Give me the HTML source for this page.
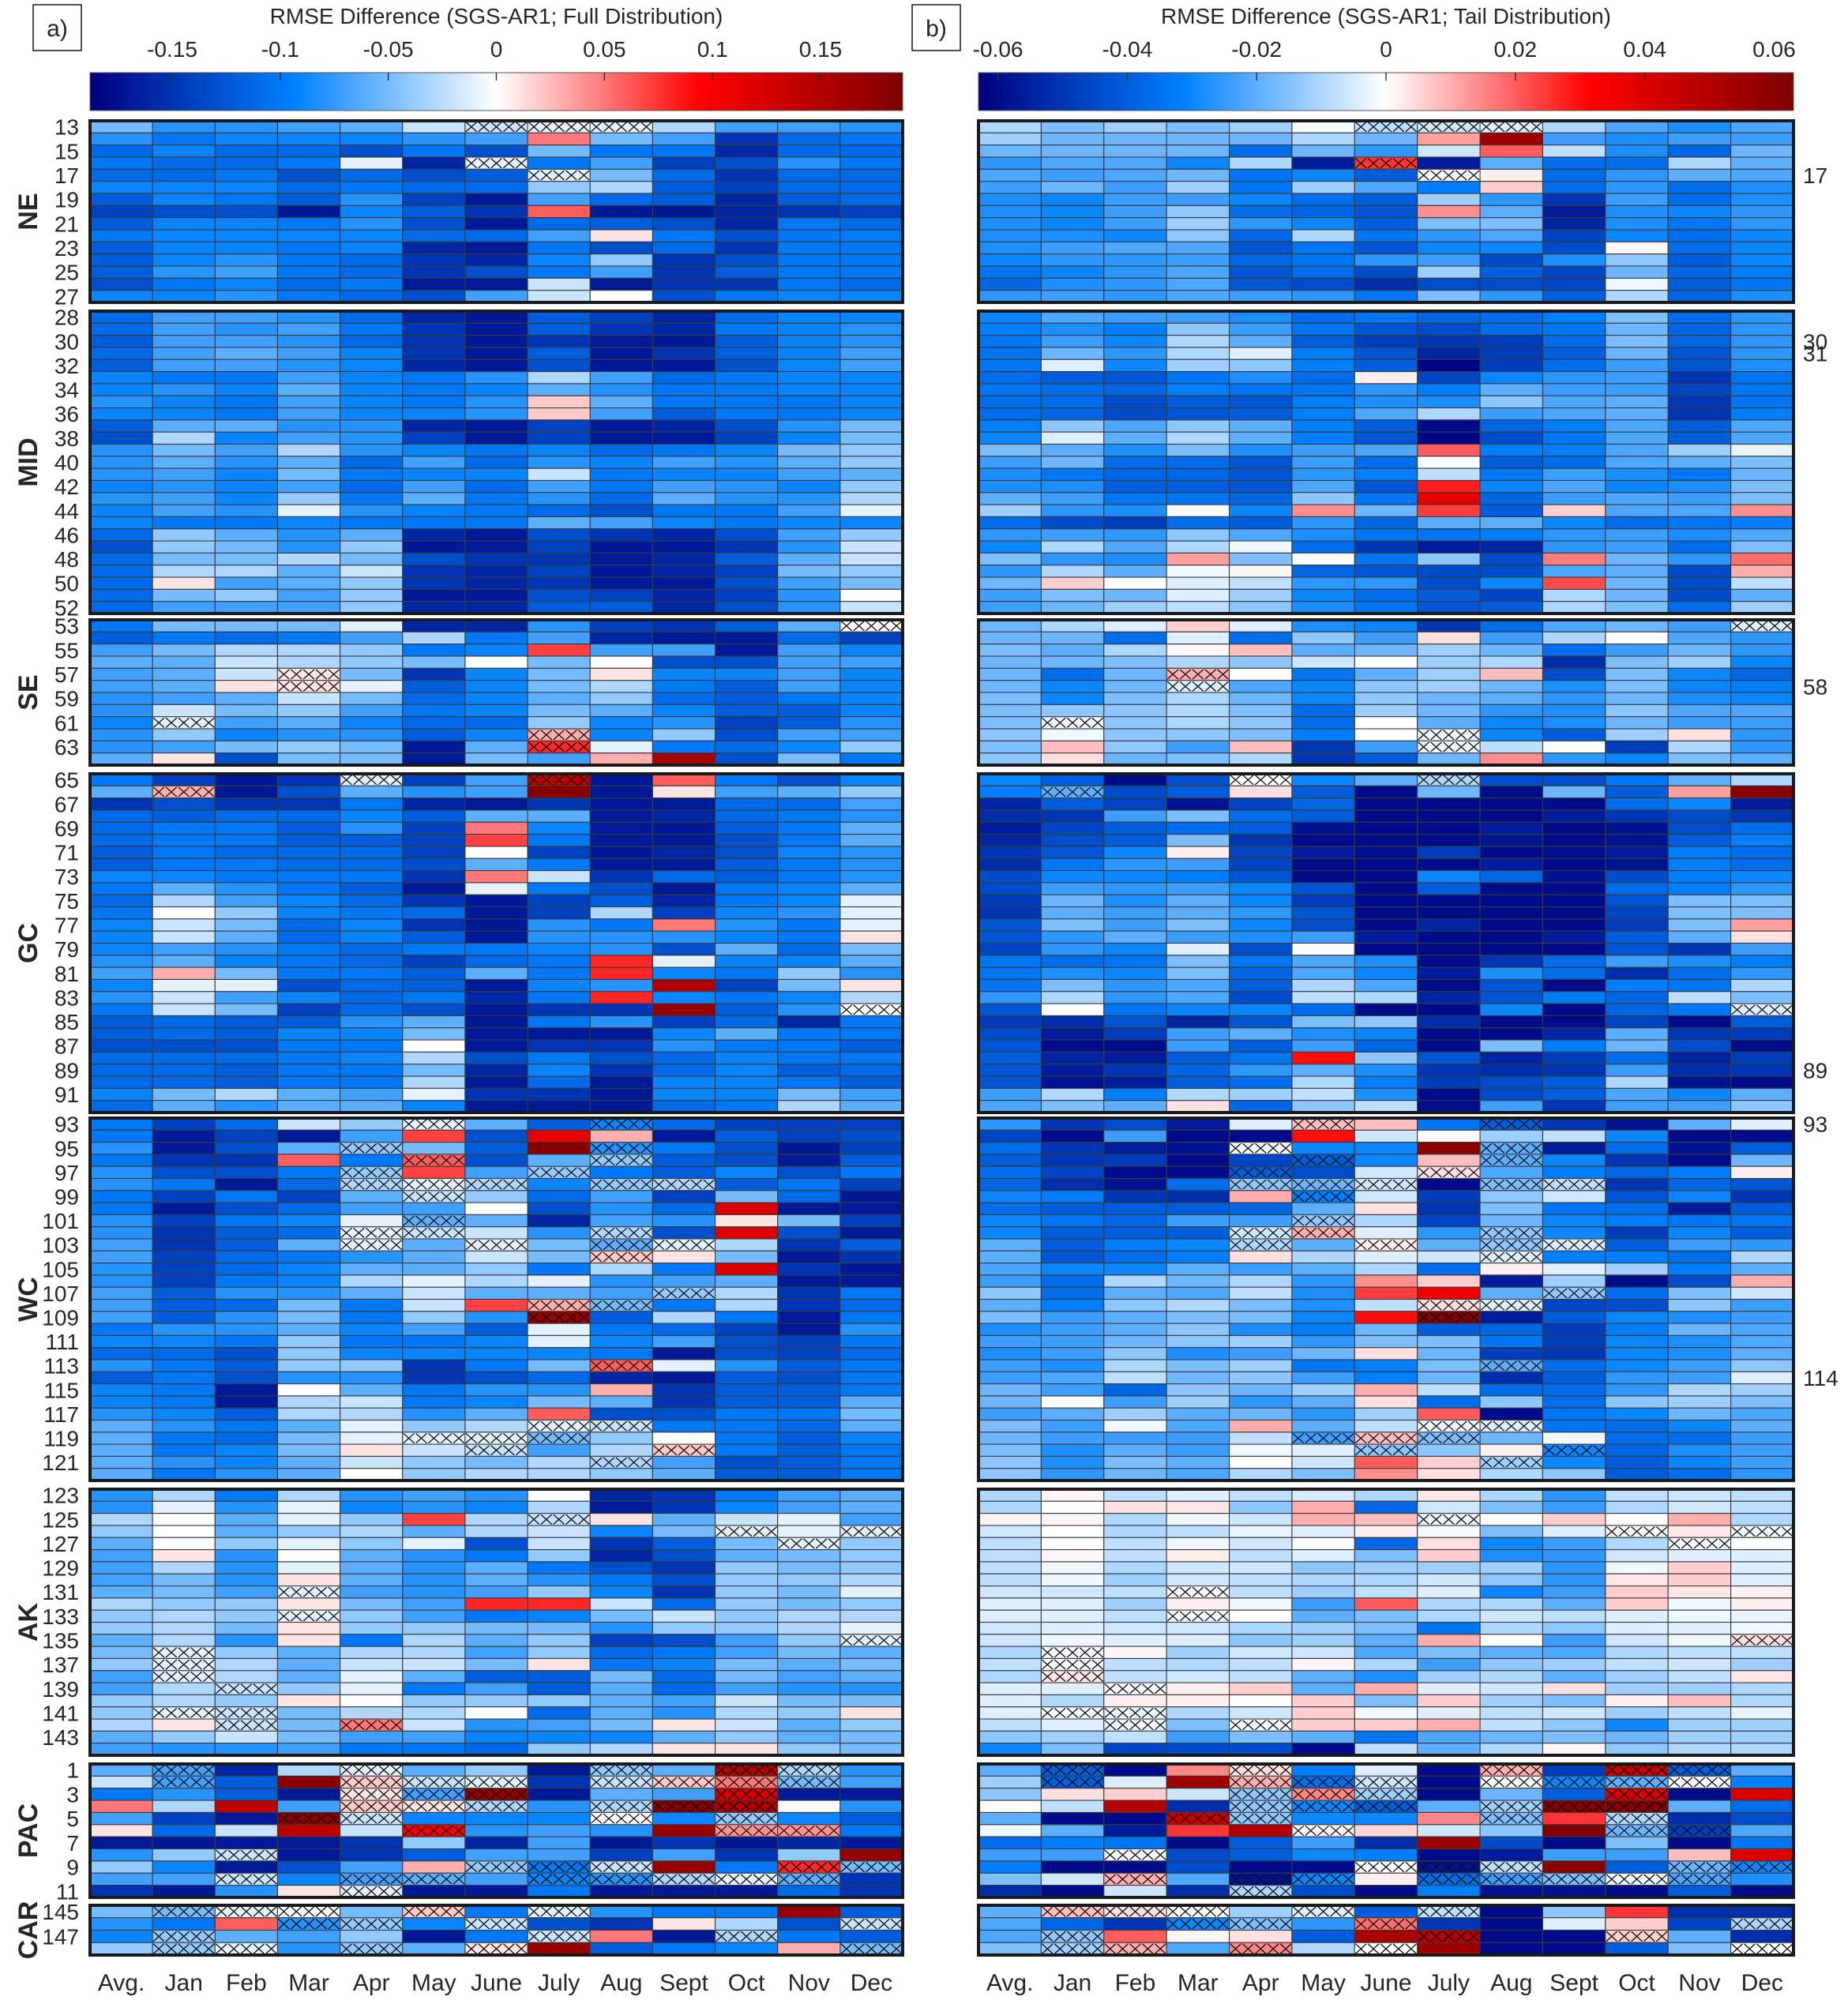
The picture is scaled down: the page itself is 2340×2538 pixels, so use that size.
<!DOCTYPE html>
<html><head><meta charset="utf-8"><title>RMSE Difference heatmaps</title>
<style>
html,body{margin:0;padding:0;background:#fff;}
svg text{font-family:"Liberation Sans",Arial,sans-serif;fill:#262626;}
</style></head>
<body>
<svg id="fig" xmlns="http://www.w3.org/2000/svg" width="2340" height="2533" viewBox="0 0 2340 2533">
<defs>
<linearGradient id="cmap" x1="0" x2="1" y1="0" y2="0">
<stop offset="0" stop-color="rgb(0,0,125)"/>
<stop offset="0.25" stop-color="rgb(0,128,255)"/>
<stop offset="0.5" stop-color="rgb(255,255,255)"/>
<stop offset="0.75" stop-color="rgb(255,0,0)"/>
<stop offset="1" stop-color="rgb(125,0,0)"/>
</linearGradient>
</defs>
<g id="static"></g>
<g id="cells"></g>
</svg>
<script>
// ===== DATA =====
const months = ["Avg.","Jan","Feb","Mar","Apr","May","June","July","Aug","Sept","Oct","Nov","Dec"];
const groupNames = ["NE","MID","SE","GC","WC","AK","PAC","CAR"];
const groupFirstStation = [13,28,53,65,93,123,1,145];
const cbTicksA = [-0.15,-0.1,-0.05,0,0.05,0.1,0.15];
const cbTickLabelsA = ["-0.15","-0.1","-0.05","0","0.05","0.1","0.15"];
const cbTicksB = [-0.06,-0.04,-0.02,0,0.02,0.04,0.06];
const cbTickLabelsB = ["-0.06","-0.04","-0.02","0","0.02","0.04","0.06"];
const markedStationsB = [17,30,31,58,89,93,114];

// Panel a values (hundredths)
const fullNE = [
[-5,-8,-8,-7,-6,-2,-2,-1,-1,-3,-7,-7,-8],
[-8,-10,-9,-9,-9,-8,-7,5,-5,-7,-15,-11,-10],
[-11,-9,-11,-11,-13,-10,-13,-5,-10,-10,-16,-11,-11],
[-10,-11,-11,-10,-1,-16,-1,-10,-7,-14,-13,-8,-10],
[-11,-11,-10,-13,-11,-13,-12,-1,-5,-11,-15,-11,-11],
[-9,-9,-9,-11,-10,-11,-11,-4,-3,-12,-14,-11,-11],
[-12,-9,-10,-12,-8,-14,-17,-7,-11,-12,-16,-12,-11],
[-14,-13,-13,-17,-9,-12,-15,6,-17,-17,-16,-15,-14],
[-12,-9,-9,-10,-8,-13,-17,-11,-12,-13,-16,-10,-11],
[-10,-9,-9,-9,-9,-11,-11,-7,1,-10,-13,-10,-10],
[-12,-9,-9,-10,-9,-16,-17,-10,-13,-11,-15,-10,-10],
[-12,-9,-8,-10,-11,-15,-16,-9,-4,-15,-13,-10,-10],
[-12,-8,-7,-10,-11,-15,-13,-10,-7,-15,-12,-10,-10],
[-13,-10,-9,-11,-10,-17,-17,-2,-17,-15,-15,-10,-11],
[-9,-9,-8,-10,-11,-13,-7,-2,0,-13,-10,-9,-9]];
const fullMID = [
[-11,-7,-7,-8,-11,-16,-17,-12,-14,-16,-11,-9,-9],
[-11,-7,-8,-7,-10,-15,-17,-12,-15,-16,-10,-9,-8],
[-12,-7,-7,-8,-11,-15,-17,-15,-17,-17,-12,-9,-8],
[-11,-7,-6,-7,-9,-15,-17,-12,-17,-15,-12,-9,-7],
[-12,-7,-7,-8,-9,-16,-17,-13,-17,-17,-13,-9,-7],
[-9,-10,-10,-7,-9,-10,-8,-3,-7,-11,-10,-9,-9],
[-9,-8,-9,-6,-9,-10,-9,-6,-8,-10,-10,-9,-9],
[-8,-9,-10,-7,-9,-10,-8,2,-6,-10,-10,-10,-9],
[-9,-9,-10,-7,-9,-9,-8,2,-7,-12,-10,-10,-9],
[-12,-6,-6,-8,-8,-16,-17,-14,-17,-16,-13,-8,-5],
[-13,-3,-9,-7,-8,-14,-17,-14,-17,-17,-14,-9,-5],
[-8,-5,-7,-3,-8,-9,-10,-9,-11,-10,-9,-5,-4],
[-8,-6,-8,-6,-11,-7,-11,-8,-9,-7,-8,-6,-4],
[-8,-7,-9,-5,-10,-9,-9,-2,-10,-9,-9,-7,-6],
[-9,-8,-9,-7,-11,-7,-11,-7,-10,-7,-8,-9,-4],
[-8,-7,-9,-4,-10,-6,-10,-8,-11,-6,-8,-8,-3],
[-9,-7,-8,-1,-8,-9,-10,-11,-13,-10,-10,-7,-1],
[-9,-10,-10,-9,-10,-10,-10,-6,-7,-9,-10,-9,-9],
[-11,-4,-6,-8,-6,-16,-17,-13,-15,-16,-13,-7,-4],
[-13,-4,-5,-8,-4,-17,-17,-14,-17,-17,-15,-8,-2],
[-11,-5,-5,-3,-5,-13,-15,-15,-17,-16,-12,-6,-2],
[-11,-3,-3,-6,-2,-15,-16,-14,-17,-16,-14,-5,-4],
[-11,1,-7,-6,-4,-15,-16,-15,-17,-17,-13,-7,-5],
[-11,-5,-4,-7,-4,-17,-17,-13,-14,-16,-14,-8,0],
[-11,-7,-7,-7,-4,-16,-16,-12,-12,-16,-13,-8,-2]];
const fullSE = [
[-10,-5,-5,-5,-1,-16,-16,-8,-14,-15,-12,-6,0],
[-12,-10,-11,-10,-7,-3,-10,-7,-16,-17,-17,-11,-14],
[-7,-5,-3,-3,-4,-10,-9,7,-7,-7,-17,-7,-9],
[-6,-6,-2,-3,-4,-5,0,-5,0,-13,-13,-7,-7],
[-7,-6,-2,1,-5,-15,-9,-5,1,-9,-9,-7,-9],
[-7,-6,1,1,-1,-12,-9,-5,-3,-10,-12,-7,-9],
[-8,-7,-6,-2,-5,-11,-9,-6,-4,-11,-12,-10,-9],
[-8,-2,-5,-4,-7,-10,-9,-5,-6,-9,-12,-12,-9],
[-9,-1,-7,-6,-9,-11,-11,-4,-9,-8,-14,-12,-8],
[-8,-4,-9,-8,-8,-12,-9,3,-9,-4,-13,-7,-7],
[-8,-7,-5,-4,-5,-17,-6,8,-1,-10,-11,-9,-4],
[-6,1,-13,-5,-5,-17,-5,-7,3,16,-13,-5,-10]];
const fullGC = [
[-10,-14,-17,-15,-1,-14,-7,14,-17,6,-10,-13,-9],
[-6,3,-17,-13,-6,-8,-7,18,-17,1,-7,-6,-4],
[-15,-13,-15,-15,-10,-16,-17,-15,-17,-17,-11,-11,-7],
[-11,-12,-11,-11,-9,-12,-6,-6,-17,-16,-11,-10,-8],
[-11,-10,-10,-12,-8,-14,5,-9,-17,-17,-12,-10,-6],
[-11,-10,-10,-12,-12,-14,7,-10,-17,-17,-13,-10,-6],
[-12,-10,-11,-11,-11,-14,0,-14,-17,-16,-13,-9,-8],
[-12,-10,-10,-11,-11,-13,-6,-10,-17,-17,-12,-10,-8],
[-9,-9,-10,-10,-10,-15,5,-2,-15,-11,-12,-10,-8],
[-10,-6,-8,-10,-12,-17,-1,-10,-13,-17,-10,-9,-6],
[-11,-3,-7,-9,-11,-15,-17,-14,-12,-16,-10,-9,-1],
[-10,0,-4,-9,-10,-11,-17,-14,-3,-14,-9,-8,-1],
[-9,-2,-5,-11,-9,-15,-17,-8,-10,5,-8,-10,-1],
[-9,-2,-6,-11,-9,-12,-17,-8,-8,-8,-9,-10,1],
[-9,-7,-8,-10,-11,-10,-10,-9,-8,-13,-6,-11,-5],
[-8,-6,-9,-10,-11,-14,-11,-10,8,-1,-9,-9,-6],
[-7,3,-5,-10,-10,-12,-6,-10,8,-9,-10,-4,-8],
[-9,-1,-1,-13,-11,-12,-17,-9,-8,15,-14,-5,1],
[-8,-2,-7,-9,-11,-10,-16,-10,8,-9,-10,-9,-3],
[-10,-2,-5,-14,-11,-13,-17,-15,-15,17,-12,-8,0],
[-12,-11,-12,-12,-8,-6,-17,-10,-8,-14,-11,-16,-10],
[-12,-11,-12,-9,-9,-5,-17,-17,-17,-9,-6,-10,-10],
[-13,-13,-13,-10,-10,0,-17,-15,-15,-8,-10,-10,-12],
[-11,-11,-11,-10,-9,-3,-13,-10,-13,-11,-9,-10,-10],
[-11,-11,-12,-10,-10,-5,-16,-9,-15,-11,-9,-12,-11],
[-11,-11,-12,-10,-10,-3,-17,-11,-17,-9,-9,-10,-12],
[-9,-5,-3,-6,-7,-1,-15,-15,-17,-9,-9,-5,-7],
[-11,-6,-8,-6,-6,-9,-17,-17,-17,-11,-10,-3,-6]];
const fullWC = [
[-10,-14,-11,-2,-4,-1,-6,-12,-9,-11,-14,-14,-14],
[-10,-17,-14,-17,-7,7,-13,11,3,-17,-12,-14,-13],
[-8,-17,-13,-6,-4,-5,-12,18,-8,-10,-13,-17,-14],
[-10,-15,-15,6,-10,6,-13,-6,-4,-12,-13,-17,-12],
[-8,-13,-13,-10,-4,7,-7,-4,-10,-12,-9,-13,-10],
[-8,-10,-17,-11,-3,-1,-3,-9,-4,-3,-12,-10,-14],
[-10,-14,-10,-14,-6,-2,-4,-11,-7,-14,-5,-11,-17],
[-10,-17,-13,-11,-7,-7,0,-13,-8,-11,12,-17,-17],
[-8,-14,-10,-9,-1,-6,-6,-16,-7,-8,1,-5,-14],
[-8,-15,-12,-11,-1,-2,-2,-8,-3,-13,12,-13,-17],
[-7,-15,-12,-6,-1,-6,-1,-5,-6,-1,-3,-15,-12],
[-7,-14,-11,-10,-8,-6,-2,-5,2,1,-5,-17,-15],
[-8,-14,-11,-9,-6,-6,-4,-10,-3,-10,12,-15,-17],
[-8,-14,-10,-9,-3,-1,-3,-1,-8,-7,-6,-17,-17],
[-7,-12,-8,-8,-6,-2,-6,-6,-7,-4,-3,-15,-10],
[-7,-12,-11,-5,-10,-2,7,3,-5,-10,-3,-15,-11],
[-7,-12,-8,-5,-10,-4,-8,17,-12,-3,-10,-17,-10],
[-10,-8,-8,-6,-9,-7,-12,-1,-10,-11,-14,-17,-8],
[-9,-9,-10,-4,-10,-10,-9,-1,-9,-7,-13,-14,-10],
[-11,-11,-13,-4,-9,-9,-9,-9,-10,-17,-13,-14,-11],
[-8,-10,-12,-4,-4,-15,-10,-5,6,-1,-8,-12,-10],
[-12,-10,-13,-8,-8,-15,-13,-11,-16,-17,-12,-13,-10],
[-9,-10,-17,0,-6,-10,-8,-8,3,-15,-12,-12,-10],
[-9,-10,-17,-3,-2,-10,-9,-5,-6,-15,-12,-12,-6],
[-8,-9,-12,-3,-3,-8,-6,6,-13,-13,-10,-10,-5],
[-6,-8,-10,-6,-1,-4,-3,-1,-2,-10,-10,-11,-6],
[-6,-10,-11,-5,-1,-1,-1,-5,-4,0,-10,-12,-9],
[-6,-10,-9,-5,1,-2,-2,-7,-3,2,-10,-12,-10],
[-6,-8,-9,-6,-2,-4,-5,-3,-3,-7,-13,-12,-10],
[-6,-10,-8,-6,0,-4,-3,-3,-4,-6,-12,-12,-10]];
const fullAK = [
[-8,-3,-10,-3,-8,-7,-8,0,-16,-15,-10,-7,-6],
[-8,-1,-8,-1,-9,-8,-9,-3,-17,-15,-9,-7,-6],
[-3,0,-6,-1,-4,7,-3,-2,1,-6,-2,-1,-7],
[-4,0,-6,-4,-3,-6,-3,-2,-9,-5,-1,-1,-1],
[-6,0,-4,-1,-4,-1,-13,-2,-15,-12,-5,-1,-4],
[-7,1,-8,0,-6,-8,-10,-4,-16,-13,-6,-5,-4],
[-7,-3,-8,-1,-6,-8,-6,-10,-13,-15,-4,-5,-4],
[-7,-5,-8,1,-6,-8,-6,-8,-10,-13,-4,-4,-3],
[-6,-5,-7,-1,-7,-8,-7,-4,-9,-15,-4,-5,-1],
[-3,-4,-4,1,-5,-7,8,8,-2,-11,-4,-5,-4],
[-4,-3,-4,-1,-4,-7,-10,-9,-5,-2,-4,-3,-3],
[-4,-3,-5,1,-4,-4,-5,-5,-8,-4,-4,-3,-1],
[-6,-3,-8,1,-10,-3,-6,-4,-14,-13,-7,-4,-1],
[-5,-1,-4,-6,-3,-3,-7,-4,-11,-10,-7,-5,-6],
[-4,-1,-3,-6,-2,-2,-5,1,-10,-9,-5,-6,-5],
[-7,-1,-3,-6,-1,-6,-12,-12,-5,-11,-5,-7,-6],
[-7,-3,-2,-4,-1,-10,-7,-12,-6,-11,-7,-8,-8],
[-4,-3,-4,1,0,-4,-4,-4,-6,-7,-2,-5,-5],
[-4,-1,-2,-5,-3,-3,0,-11,-6,-8,-3,-4,1],
[-3,1,-2,-5,5,-2,-8,-7,-5,1,-2,-6,-4],
[-6,-4,-2,-5,-7,-7,-9,-9,-9,-6,-4,-6,-5],
[-7,-8,-8,-7,-10,-10,-11,-4,-3,1,1,-4,-5]];
const fullPAC = [
[-6,-7,-16,-3,-1,-6,-4,-17,-4,-6,15,-3,-8],
[-2,-7,-12,18,2,-2,-1,-15,-2,2,5,-5,-7],
[-10,-8,-12,-17,1,-7,17,-17,-6,-7,12,-17,-17],
[5,-3,14,-7,2,1,-3,-8,-3,18,15,0,-8],
[-7,-14,-17,18,-2,-9,-9,-9,0,-9,-4,-9,-12],
[1,-11,-2,14,-2,10,-8,-7,-8,17,4,4,-10],
[-17,-17,-17,-17,-15,-4,-16,-7,-17,-15,-17,-16,-17],
[-8,-4,-2,-17,-15,-12,-7,-7,-14,-7,-15,-4,17],
[-4,-9,-17,-13,-7,3,-4,-10,-2,17,-10,8,-5],
[-7,-7,-2,-9,-7,-6,-7,-9,-8,-3,-1,-6,-15],
[-15,-17,-8,1,-1,-17,-17,-10,-17,-17,-17,-11,-15]];
const fullCAR = [
[-5,-5,-1,0,-5,2,-10,-1,-8,-10,-10,17,-12],
[-8,-10,6,-8,-4,-9,-2,-13,-15,1,-3,-13,-2],
[-9,-4,-6,-7,-4,-17,-10,-2,5,-17,-3,-10,-12],
[-4,-4,-1,-8,-4,-6,1,17,-12,-10,-9,3,-5]];

// Panel b values (thousandths)
const tailNE = [
[-10,-16,-12,-16,-12,-1,-8,-6,-4,-10,-22,-28,-22],
[-12,-18,-18,-18,-18,-10,-18,12,55,-24,-28,-24,-24],
[-18,-18,-18,-18,-36,-18,-26,-6,20,-8,-28,-38,-18],
[-26,-22,-22,-30,-10,-56,25,-56,-20,-36,-36,-10,-20],
[-22,-24,-22,-18,-34,-30,-40,-1,2,-36,-26,-20,-22],
[-24,-18,-24,-12,-34,-12,-22,-32,6,-36,-26,-36,-28],
[-28,-30,-24,-24,-30,-36,-40,-12,-26,-50,-24,-36,-28],
[-28,-30,-24,-14,-36,-38,-42,14,-20,-56,-28,-30,-26],
[-28,-30,-24,-12,-26,-30,-40,-16,-16,-54,-28,-34,-26],
[-28,-28,-30,-14,-38,-10,-34,-26,-22,-46,-30,-36,-30],
[-28,-24,-22,-22,-42,-34,-42,-30,-30,-44,1,-36,-30],
[-30,-26,-26,-24,-38,-34,-26,-24,-44,-28,-14,-40,-30],
[-34,-30,-26,-22,-42,-36,-44,-12,-40,-46,-18,-38,-32],
[-38,-28,-26,-22,-42,-44,-52,-44,-44,-46,-2,-40,-34],
[-26,-24,-26,-22,-24,-26,-34,-16,-26,-40,-10,-38,-28]];
const tailMID = [
[-30,-22,-24,-24,-28,-36,-34,-38,-36,-32,-16,-36,-26],
[-32,-28,-32,-14,-24,-34,-42,-44,-36,-34,-18,-38,-26],
[-34,-24,-30,-10,-20,-40,-48,-50,-48,-36,-16,-38,-26],
[-34,-18,-26,-10,-4,-32,-42,-54,-48,-40,-18,-42,-26],
[-34,-4,-30,-12,-14,-32,-40,-62,-48,-36,-24,-42,-28],
[-36,-40,-42,-34,-28,-36,2,-46,-30,-26,-24,-50,-34],
[-34,-36,-38,-32,-34,-34,-26,-32,-20,-24,-24,-46,-34],
[-36,-36,-44,-40,-42,-32,-28,-28,-14,-22,-20,-50,-34],
[-36,-38,-44,-42,-40,-32,-22,-10,-24,-22,-20,-50,-32],
[-32,-14,-22,-14,-20,-32,-40,-60,-38,-32,-22,-40,-22],
[-30,-4,-20,-10,-20,-32,-42,-62,-44,-34,-22,-40,-22],
[-16,-20,-28,-16,-28,-24,-22,20,-32,-32,-22,-12,-3],
[-24,-18,-36,-36,-42,-24,-36,0,-40,-36,-22,-20,-16],
[-28,-34,-38,-38,-42,-26,-32,-8,-34,-24,-28,-34,-18],
[-28,-28,-40,-40,-42,-22,-42,28,-30,-22,-30,-28,-16],
[-20,-24,-34,-34,-38,-14,-34,38,-38,-24,-22,-24,-16],
[-12,-26,-28,-1,-30,14,-18,24,-40,6,-22,-22,14],
[-36,-44,-48,-36,-40,-26,-38,-20,-20,-30,-36,-34,-32],
[-26,-24,-26,-14,-22,-28,-34,-34,-32,-26,-24,-28,-22],
[-30,-10,-22,-10,-2,-36,-50,-56,-54,-26,-24,-36,-16],
[-16,-26,-28,12,-16,0,-34,-14,-44,16,-18,-26,18],
[-26,-10,-20,-2,1,-38,-42,-44,-44,-22,-20,-44,10],
[-18,6,0,-4,-8,-26,-26,-44,-30,22,-18,-44,-8],
[-24,-16,-18,-4,-12,-30,-36,-40,-46,-10,-18,-44,-20],
[-24,-18,-12,-8,-14,-28,-34,-42,-40,-10,-16,-36,-12]];
const tailSE = [
[-18,-10,-4,6,-4,-28,-30,-50,-36,-22,-18,-24,-4],
[-18,-18,-36,-4,-36,-14,-24,4,-24,-10,0,-22,-26],
[-16,-20,-10,1,8,-20,-18,-12,-18,-36,-24,-18,-26],
[-18,-18,-16,-10,-14,-6,0,-12,-10,-52,-16,-12,-30],
[-18,-36,-18,10,0,-34,-20,-12,8,-44,-16,-30,-38],
[-18,-30,-18,-4,-22,-30,-14,-12,-18,-28,-16,-30,-32],
[-16,-30,-16,-10,-18,-30,-14,-18,-20,-26,-18,-28,-30],
[-16,-14,-14,-10,-16,-36,-12,-18,-26,-28,-14,-22,-22],
[-16,-2,-14,-10,-14,-36,0,-20,-30,-28,-18,-24,-24],
[-14,-2,-14,-14,-16,-32,0,-2,-30,-40,-12,4,-26],
[-16,8,-14,-24,8,-50,-24,-2,-8,0,-48,-10,-26],
[-14,4,-18,-16,-10,-50,-40,-18,14,-26,-30,-16,-20]];
const tailGC = [
[-30,-40,-60,-44,0,-30,-20,-10,-44,-44,-34,-20,-10],
[-32,-20,-44,-40,4,-40,-60,-18,-60,-18,-40,12,60],
[-54,-40,-46,-58,-46,-38,-60,-60,-60,-60,-36,-30,-56],
[-52,-50,-24,-16,-36,-40,-60,-60,-60,-56,-50,-44,-50],
[-56,-46,-40,-36,-40,-58,-60,-60,-56,-60,-58,-44,-36],
[-54,-44,-40,-16,-50,-60,-60,-60,-58,-60,-58,-40,-32],
[-50,-42,-30,2,-46,-56,-60,-48,-60,-60,-56,-32,-36],
[-52,-34,-26,-24,-46,-60,-60,-60,-56,-60,-58,-32,-36],
[-44,-30,-30,-32,-42,-60,-60,-30,-38,-58,-44,-32,-30],
[-44,-24,-26,-24,-30,-42,-60,-40,-60,-60,-36,-32,-26],
[-48,-18,-28,-20,-30,-48,-60,-60,-60,-60,-42,-16,-16],
[-50,-20,-24,-20,-26,-42,-60,-60,-60,-60,-46,-16,-16],
[-42,-16,-24,-16,-30,-44,-60,-54,-60,-60,-48,-16,12],
[-42,-26,-20,-24,-28,-24,-56,-60,-60,-56,-40,-20,4],
[-46,-26,-30,-4,-44,0,-60,-60,-60,-60,-42,-50,-24],
[-34,-36,-34,-16,-34,-22,-28,-60,-50,-36,-24,-28,-32],
[-34,-28,-30,-16,-38,-22,-30,-56,-28,-36,-52,-36,-26],
[-34,-16,-26,-22,-40,-10,-22,-60,-42,-60,-32,-34,-10],
[-26,-10,-26,-22,-44,-8,-10,-54,-42,-32,-38,-8,-16],
[-42,0,-34,-30,-30,-36,-60,-60,-30,-60,-38,-34,-4],
[-48,-52,-42,-54,-42,-16,-14,-52,-60,-60,-46,-60,-40],
[-44,-56,-48,-24,-20,-28,-30,-60,-60,-54,-20,-50,-48],
[-42,-60,-60,-24,-40,-24,-38,-60,-16,-32,-18,-44,-60],
[-40,-54,-56,-40,-34,30,-14,-42,-54,-48,-36,-54,-48],
[-42,-56,-50,-38,-26,-20,-28,-50,-52,-50,-24,-52,-50],
[-42,-58,-56,-40,-36,-10,-32,-48,-44,-40,-10,-58,-60],
[-24,-10,-32,-10,-12,-8,-28,-60,-44,-40,-22,-30,-20],
[-22,-16,-20,4,-38,-14,-8,-60,-24,-50,-24,-24,-14]];
const tailWC = [
[-26,-50,-44,-56,-4,8,8,-34,-40,-50,-58,-20,-4],
[-46,-60,-24,-60,-60,30,-6,0,-12,-8,-30,-60,-60],
[-36,-50,-56,-58,-1,-30,-30,60,-20,-56,-36,-58,-40],
[-40,-50,-48,-60,-46,-40,-30,8,-20,-30,-50,-60,-18],
[-36,-46,-60,-60,-40,-44,-6,4,-22,-32,-38,-32,2],
[-38,-52,-58,-36,-14,-18,-6,-60,-16,-8,-50,-38,-42],
[-30,-32,-50,-52,10,-32,-6,-48,-14,-6,-42,-30,-50],
[-36,-40,-40,-40,-38,-20,4,-50,-16,-34,-36,-56,-40],
[-30,-34,-38,-24,-24,-14,-10,-46,-18,-30,-32,-34,-34],
[-30,-40,-40,-40,-6,10,-4,-26,-14,-30,-48,-30,-40],
[-20,-40,-32,-30,-10,-20,2,-20,-14,-4,-40,-24,-26],
[-20,-42,-36,-32,4,-10,-4,-6,-4,-32,-32,-36,-10],
[-22,-30,-30,-20,-24,-20,-10,-36,2,-4,-12,-32,-20],
[-24,-36,-10,-18,-10,-26,14,6,-56,-12,-60,-44,10],
[-14,-36,-20,-22,-8,-28,24,36,-20,-14,-36,-16,-6],
[-20,-32,-14,-10,-16,-28,-8,4,-4,-46,-44,-14,-24],
[-16,-24,-20,-16,-16,-30,30,62,-56,-40,-30,-28,-24],
[-28,-24,-20,-14,-28,-32,-18,-40,-38,-48,-32,-18,-22],
[-24,-24,-18,-14,-12,-26,-16,-16,-34,-48,-30,-28,-22],
[-28,-24,-14,-28,-24,-18,4,-18,-48,-50,-30,-28,-20],
[-24,-28,-10,-16,-12,-34,-32,-16,-20,-36,-30,-24,-14],
[-24,-22,-8,-18,-14,-24,-32,-18,-52,-40,-26,-24,-4],
[-18,-24,-38,-14,-18,-12,10,-8,-36,-36,-26,-10,-12],
[-18,0,-24,-12,-26,-20,4,-36,-14,-36,-14,-12,-16],
[-24,-20,-12,-20,-18,-26,-12,20,-60,-34,-30,-18,-22],
[-16,-24,-2,-22,10,-20,-8,-2,-4,-34,-36,-30,-20],
[-18,-24,-24,-24,-8,-24,8,-16,-18,-2,-36,-36,-24],
[-16,-28,-20,-24,-2,-4,-14,-14,2,-30,-38,-28,-24],
[-14,-28,-16,-20,0,-6,20,6,-12,-30,-40,-30,-24],
[-14,-26,-18,-22,-10,-16,14,4,-10,-14,-40,-36,-26]];
const tailAK = [
[-10,1,-8,-4,-8,-5,-10,3,-10,-26,-8,-6,-8],
[-10,0,4,3,-14,10,-38,-6,-16,-24,-10,-6,-8],
[1,1,-10,-2,-6,10,8,-2,0,6,0,10,-10],
[-6,0,-10,-8,-3,-4,2,-1,-16,-4,-1,3,-1],
[-8,0,-8,-2,-6,0,-38,4,-30,-24,-10,-1,0],
[-8,1,-8,2,-8,-4,-16,6,-28,-26,-6,-4,-4],
[-8,-2,-10,-6,-6,-14,-12,-12,-12,-26,-2,6,-4],
[-8,-2,-12,-6,-8,-10,-10,-6,-14,-26,3,6,-4],
[-6,-6,-8,-1,-8,-12,-8,-4,-30,-24,6,3,2],
[-4,-4,-12,2,-2,-24,20,-10,-10,-20,6,-2,2],
[-4,-4,-8,-1,0,-20,-16,-10,-6,-8,-4,-2,-3],
[-6,-4,-6,-6,-10,-12,-16,-34,-10,-14,-4,-4,-2],
[-6,-2,-4,-4,-14,-12,-20,10,0,-24,-6,-2,4],
[-10,-1,1,-12,-6,-6,-22,-16,-20,-22,-10,-8,-8],
[-8,-1,-8,-10,-8,1,-10,-24,-14,-12,-8,-6,-12],
[-10,3,-8,-6,-8,-20,-28,-12,-10,-20,-12,-8,3],
[-4,-4,-1,2,6,-20,10,-4,-6,4,-12,-12,-10],
[-4,-10,2,2,0,6,-16,6,-12,-16,2,8,-10],
[-4,-1,-2,-10,-6,6,-2,-4,-8,-6,-12,-8,-3],
[-8,-4,-2,-16,-1,6,6,10,-8,-14,-30,-12,-12],
[-14,-12,-8,-24,-16,-20,-34,-22,-18,-16,-18,-12,-12],
[-30,-16,-46,-44,-44,-60,-8,-20,-10,1,-14,-10,-10]];
const tailPAC = [
[-20,-40,-60,15,4,-32,-4,-60,10,-48,45,-40,-20],
[-12,-40,-4,55,10,-36,-6,-60,0,-30,-20,-1,-32],
[-14,4,6,-6,-14,15,-12,-60,-18,-40,40,-60,40],
[0,-8,50,-52,-14,-30,-40,-20,-12,60,60,-20,-36],
[-20,-60,-60,45,-14,-30,-30,15,-16,25,-10,-52,-44],
[-2,-20,-56,25,50,1,5,-6,-14,62,-18,-48,-22],
[-36,-32,-34,-60,-40,-24,-52,55,-44,-60,-16,-60,-34],
[-24,-24,-1,-44,-40,-30,-32,-60,-56,-24,-24,8,40],
[-32,-60,-60,-44,-60,-60,0,-58,-8,60,-40,-18,-30],
[-16,-6,10,-22,-58,-30,2,-36,-24,-16,-2,-22,-28],
[-52,-60,-6,-52,-10,-44,-60,-32,-58,-58,-60,-40,-60]];
const tailCAR = [
[-20,8,4,0,-12,-4,-40,-8,-60,-14,25,-52,-52],
[-22,-38,-50,-30,-16,-26,18,-50,-60,-4,6,-46,-10],
[-22,-14,20,1,4,-40,52,50,-60,-60,6,-20,-52],
[-16,-12,10,-22,15,-10,0,55,-60,-60,-40,-16,0]];

// Hatched (cross-hatched) cells: [station, month index]
const hatchCells = [
[13,6],[13,7],[13,8],[16,6],[17,7],
[53,12],[57,3],[58,3],[61,1],[62,7],[63,7],
[65,4],[65,7],[66,1],[84,12],
[93,5],[93,8],[95,4],[95,8],[96,5],[96,8],[97,4],[97,7],[98,4],[98,5],[98,6],[98,8],[98,9],[99,5],
[101,5],[102,4],[102,5],[102,8],[103,4],[103,6],[103,8],[103,9],[104,8],[107,9],[108,7],[108,8],[109,7],
[113,8],[118,7],[118,8],[119,5],[119,6],[119,7],[120,6],[120,9],[121,8],
[125,7],[126,10],[126,12],[127,11],[131,3],[133,3],[135,12],[136,1],[137,1],[138,1],[139,2],[141,1],[141,2],[142,2],[142,4],
[1,1],[2,1],[1,4],[2,4],[3,4],[4,4],[5,4],[2,5],[3,5],[4,5],[2,6],[3,6],[4,6],[1,8],[2,8],[4,8],[5,8],[2,9],[4,9],
[1,10],[2,10],[3,10],[4,10],[5,10],[6,10],[1,11],[2,11],[6,11],[5,3],[6,5],[8,2],[9,6],[9,7],[9,8],[9,11],[9,12],
[10,2],[10,4],[10,5],[10,7],[10,8],[10,9],[10,10],[10,11],[11,4],
[145,1],[145,2],[145,3],[145,5],[145,7],[146,3],[146,4],[146,6],[146,12],[147,1],[147,7],[147,10],[148,1],[148,2],[148,4],[148,6],[148,12]];

const fullData = [fullNE,fullMID,fullSE,fullGC,fullWC,fullAK,fullPAC,fullCAR];
const tailData = [tailNE,tailMID,tailSE,tailGC,tailWC,tailAK,tailPAC,tailCAR];

// ===== LAYOUT =====
const NS = "http://www.w3.org/2000/svg";
const groupTop = [153,394,785,980,1416,1886,2234,2413];
const groupBot = [383,777,969,1409,1875,2223,2403,2476];
const panels = [
  {x0:114, x1:1143, data:fullData, vmax:18.8, cbMin:-0.188, cbMax:0.188, ticks:cbTicksA, labels:cbTickLabelsA, key:'full',
   title:"RMSE Difference (SGS-AR1; Full Distribution)", tag:"a)", tagX:42},
  {x0:1239, x1:2271, data:tailData, vmax:63, cbMin:-0.063, cbMax:0.063, ticks:cbTicksB, labels:cbTickLabelsB, key:'tail',
   title:"RMSE Difference (SGS-AR1; Tail Distribution)", tag:"b)", tagX:1155}
];
const hatchSet = new Set(hatchCells.map(h => h[0] + '_' + h[1]));

function colorFor(v, vmax){
  let t = Math.max(-1, Math.min(1, v / vmax));
  let r,g,b;
  if (t <= -0.5){ const s=(t+1)/0.5; r=0; g=128*s; b=125+130*s; }
  else if (t < 0){ const s=(t+0.5)/0.5; r=255*s; g=128+127*s; b=255; }
  else if (t <= 0.5){ const s=t/0.5; r=255; g=255*(1-s); b=255*(1-s); }
  else { const s=(t-0.5)/0.5; r=255-130*s; g=0; b=0; }
  return `rgb(${Math.round(r)},${Math.round(g)},${Math.round(b)})`;
}
function mk(tag, attrs, parent, text){
  const e = document.createElementNS(NS, tag);
  for (const k in attrs) e.setAttribute(k, attrs[k]);
  if (text !== undefined) e.textContent = text;
  parent.appendChild(e);
  return e;
}

const stat = document.getElementById('static');
const cellsG = document.getElementById('cells');

panels.forEach((p, pi) => {
  const cw = (p.x1 - p.x0) / 13;
  const xOfVal = v => p.x0 + (v - p.cbMin) / (p.cbMax - p.cbMin) * (p.x1 - p.x0);
  // panel tag box
  const tagBox = mk('rect', {x:p.tagX, y:6, width:61, height:58, fill:'#fff', stroke:'#262626', 'stroke-width':1.6}, stat);
  
  
  const tagT = mk('text', {x:p.tagX+30.5, y:46, 'font-size':30, 'text-anchor':'middle'}, stat, p.tag);
  
  
  // colorbar title
  const ttl = mk('text', {x:(p.x0+p.x1)/2, y:30, 'font-size':28, 'text-anchor':'middle'}, stat, p.title);
  
  
  // colorbar
  const cb = mk('rect', {x:p.x0, y:92, width:p.x1-p.x0, height:48, fill:'url(#cmap)', stroke:'#555', 'stroke-width':1}, stat);
  
  
  p.ticks.forEach((tv, ti) => {
    const tx = xOfVal(tv);
    const tk = mk('line', {x1:tx, x2:tx, y1:92, y2:102, stroke:'#333', 'stroke-width':1.5}, stat);
    
    
    const tl = mk('text', {x:tx, y:72, 'font-size':28, 'text-anchor':'middle'}, stat, p.labels[ti]);
    
    
  });
  // groups
  p.data.forEach((rows, gi) => {
    const top = groupTop[gi], bot = groupBot[gi];
    const n = rows.length;
    const rh = (bot - top) / n;
    const gG = mk('g', {}, cellsG);
    
    
    rows.forEach((row, ri) => {
      const st = groupFirstStation[gi] + ri;
      const y = top + ri * rh;
      row.forEach((v, ci) => {
        const x = p.x0 + ci * cw;
        const c = mk('rect', {x:x, y:y, width:cw, height:rh, fill:colorFor(v, p.vmax), stroke:'#3a3a3a', 'stroke-width':1.1}, gG);
        
        
        if (hatchSet.has(st + '_' + ci)) {
          let d = '';
          const nx = 5, sw = cw / nx;
          for (let k = 0; k < nx; k++) {
            const xa = x + k*sw + 1, xb = x + (k+1)*sw - 1;
            d += `M${xa},${y+1.5}L${xb},${y+rh-1.5}M${xb},${y+1.5}L${xa},${y+rh-1.5}`;
          }
          const h = mk('path', {d:d, stroke:'#111', 'stroke-width':1.3, fill:'none'}, gG);
          
          
        }
      });
      // row labels (left side only for panel a)
      if (pi === 0 && ri % 2 === 0) {
        const rl = mk('text', {x:100, y:y + rh/2 + 10, 'font-size':28, 'text-anchor':'end'}, stat, String(st));
        
        
      }
      if (pi === 1 && markedStationsB.indexOf(st) >= 0) {
        const ml = mk('text', {x:2283, y:y + rh/2 + 10, 'font-size':28, 'text-anchor':'start'}, stat, String(st));
        
        
      }
    });
    const fr = mk('rect', {x:p.x0, y:top, width:p.x1-p.x0, height:bot-top, fill:'none', stroke:'#1a1a1a', 'stroke-width':4}, gG);
    
    
    if (pi === 0) {
      const cy = (top + bot) / 2;
      const gl = mk('text', {x:47, y:cy, 'font-size':34, 'font-weight':'bold', 'text-anchor':'middle', transform:`rotate(-90 47 ${cy})`}, stat, groupNames[gi]);
      
      
    }
  });
  // month labels
  months.forEach((m, ci) => {
    const ml = mk('text', {x:p.x0 + (ci+0.5)*cw, y:2521, 'font-size':30, 'text-anchor':'middle'}, stat, m);
    
    
  });
});
</script>
</body></html>
